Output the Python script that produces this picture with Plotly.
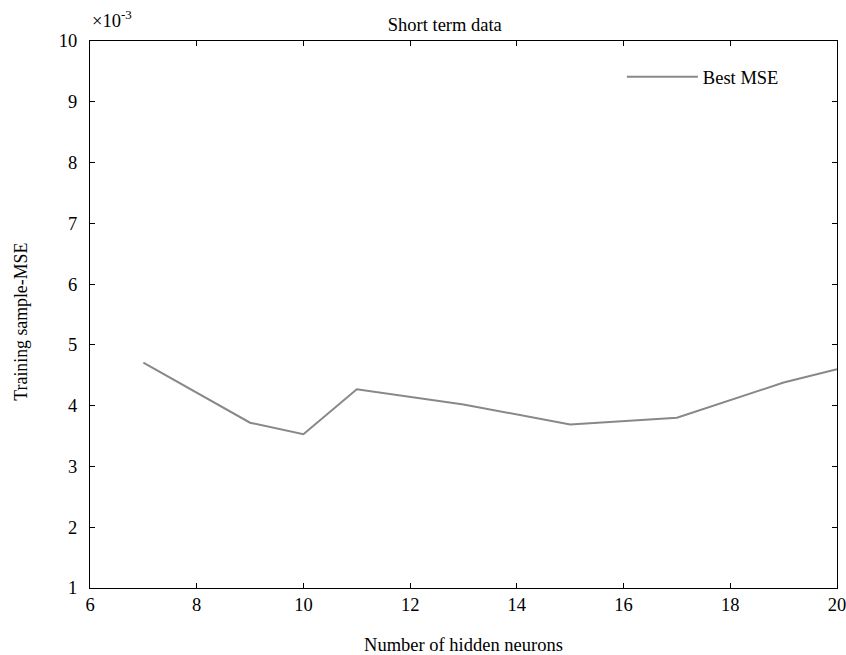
import plotly.graph_objects as go

neurons = [7, 9, 10, 11, 13, 15, 17, 19, 20]
best_mse = [4.71e-3, 3.72e-3, 3.53e-3, 4.27e-3, 4.02e-3, 3.69e-3, 3.80e-3, 4.38e-3, 4.60e-3]

x_ticks = [6, 8, 10, 12, 14, 16, 18, 20]
y_tick_vals = [1e-3, 2e-3, 3e-3, 4e-3, 5e-3, 6e-3, 7e-3, 8e-3, 9e-3, 10e-3]
y_tick_text = ["1", "2", "3", "4", "5", "6", "7", "8", "9", "10"]

FONT = "Liberation Serif, Times New Roman, serif"
FS = 18.5

W, H = 846, 655

fig = go.Figure()
fig.add_trace(go.Scatter(
    x=neurons, y=best_mse, mode="lines", name="Best MSE",
    line=dict(color="#888888", width=2),
))

axis_common = dict(
    showline=True, linecolor="black", linewidth=1.2, mirror="ticks",
    ticks="inside", ticklen=5, tickcolor="black", tickwidth=1.2,
    showgrid=False, zeroline=False, automargin=False,
    ticklabeloverflow="allow",
    tickfont=dict(family=FONT, size=FS, color="black"),
)

fig.update_layout(
    width=W, height=H,
    margin=dict(l=90, r=9, t=41, b=67),
    paper_bgcolor="white", plot_bgcolor="white",
    font=dict(family=FONT, size=FS, color="black"),
    title=dict(text="Short term data", xref="paper", x=0.475, xanchor="center",
               y=1 - 25 / H, yanchor="middle",
               font=dict(family=FONT, size=FS, color="black")),
    xaxis=dict(range=[6, 20], tickvals=x_ticks,
               title=dict(text="Number of hidden neurons", standoff=27,
                          font=dict(family=FONT, size=FS, color="black")),
               **axis_common),
    yaxis=dict(range=[1e-3, 10e-3], tickvals=y_tick_vals, ticktext=y_tick_text,
               ticklabelstandoff=8,
               **axis_common),
    showlegend=True,
    legend=dict(x=0.712, y=0.934, xanchor="left", yanchor="middle",
                bgcolor="rgba(0,0,0,0)", borderwidth=0,
                font=dict(family=FONT, size=FS, color="black"),
                itemwidth=71),
)

fig.add_annotation(
    xref="paper", yref="paper", x=-0.0917, y=0.486, xanchor="center", yanchor="middle",
    textangle=-90, showarrow=False,
    text="Training sample-MSE", font=dict(family=FONT, size=17.8, color="black"),
)

fig.add_annotation(
    xref="paper", yref="paper", x=0, y=1, xanchor="left", yanchor="bottom",
    yshift=8, showarrow=False,
    text="×10<sup>-3</sup>", font=dict(family=FONT, size=FS, color="black"),
)

fig.write_html(
    "out.html",
    config={"displayModeBar": False},
    post_script="document.body.style.margin='0';document.body.style.overflow='hidden';",
)
